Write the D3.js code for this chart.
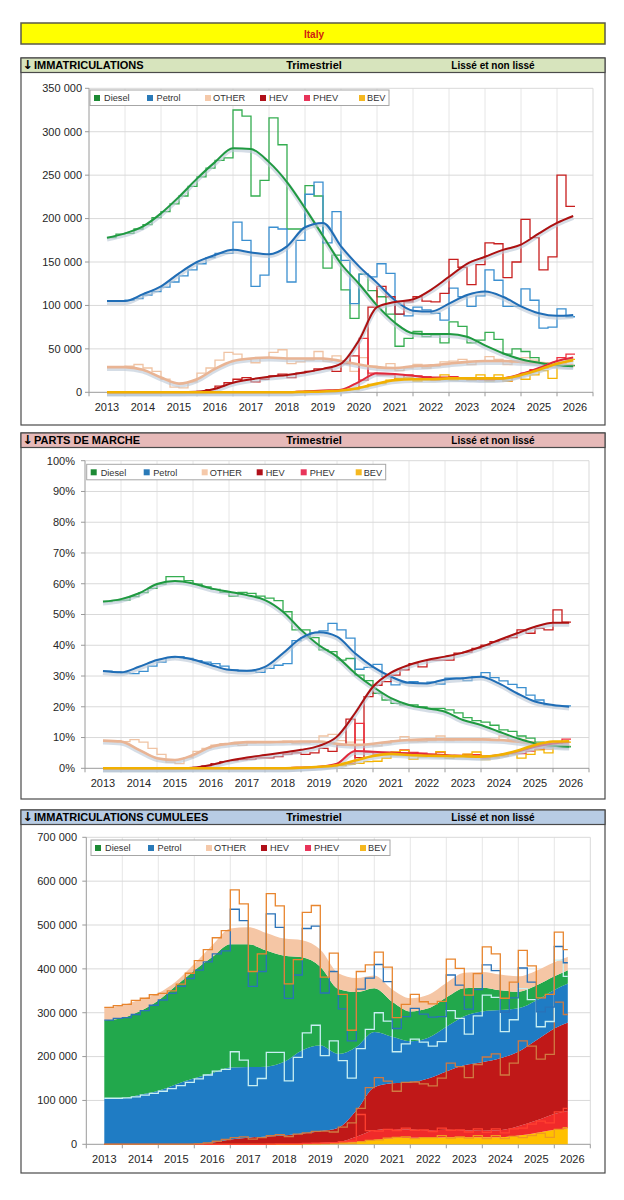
<!DOCTYPE html>
<html><head><meta charset="utf-8">
<script src="https://cdn.jsdelivr.net/npm/d3@7"></script>
<style>body{margin:0;background:#fff;} svg text{font-family:"Liberation Sans",Arial,"DejaVu Sans",sans-serif;}</style>
</head><body><svg id="c" width="624" height="1200"></svg>
<script>
// ---------- DATA ----------
const quarterLabels = ["2013Q3","2013Q4",
"2014Q1","2014Q2","2014Q3","2014Q4","2015Q1","2015Q2","2015Q3","2015Q4",
"2016Q1","2016Q2","2016Q3","2016Q4","2017Q1","2017Q2","2017Q3","2017Q4",
"2018Q1","2018Q2","2018Q3","2018Q4","2019Q1","2019Q2","2019Q3","2019Q4",
"2020Q1","2020Q2","2020Q3","2020Q4","2021Q1","2021Q2","2021Q3","2021Q4",
"2022Q1","2022Q2","2022Q3","2022Q4","2023Q1","2023Q2","2023Q3","2023Q4",
"2024Q1","2024Q2","2024Q3","2024Q4","2025Q1","2025Q2","2025Q3","2025Q4",
"2026Q1","2026Q2"];
const yearLabels = ["2013","2014","2015","2016","2017","2018","2019","2020","2021","2022","2023","2024","2025","2026"];
const smoothTimes = [2013.5,2014,2014.5,2015,2015.5,2016,2016.5,2017,2017.5,2018,2018.5,2019,2019.5,2020,2020.5,2021,2021.5,2022,2022.5,2023,2023.5,2024,2024.5,2025,2025.5,2026,2026.45];
const seriesNames = ["Diesel","Petrol","OTHER","HEV","PHEV","BEV"];

// Registrations per quarter (thousands)
const dieselRaw = [178,182,183,188,193,201,208,217,226,237,248,258,267,270,325,318,226,244,316,285,188,188,238,226,143,158,118,85,136,117,110,90,53,62,70,64,66,57,81,76,57,60,69,61,44,50,47,40,34,33,31,31];
const petrolRaw = [105,105,106,108,112,116,121,127,134,141,148,155,160,160,196,175,122,135,190,188,127,175,228,242,172,208,152,102,136,133,148,137,90,88,98,95,91,83,120,110,99,111,141,129,99,99,119,106,74,75,96,87];
const otherRaw  = [29,29,30,32,28,24,15,6,5,12,22,28,37,46,44,38,34,40,46,49,33,35,37,47,36,42,33,24,40,30,28,33,25,28,32,28,30,35,36,38,32,36,41,38,32,36,40,37,32,29,33,30];
const hevRaw    = [0,0,0,0,0,0,0,0,0,0,1,3,7,11,15,17,12,15,19,21,17,22,24,27,27,24,33,42,14,98,122,110,90,104,110,105,104,114,153,144,124,147,172,171,132,150,199,178,141,156,250,214];
const phevRaw   = [0,0,0,0,0,0,0,0,0,0,0,0,0,0,0,0,0,0,0.5,0.8,0.8,1,1.2,1.5,1.5,2,3,4,62,22,20,20,15,20,19,18,14,17,18,16,14,15,14,15,13,17,22,26,28,33,40,44];
const bevRaw    = [0,0,0,0,0,0,0,0,0,0,0,0,0,0,0,0,0,0,0,0,0,0,0.8,1,1.5,2,3,3,6,9,10,14,16,17,13,15,15,20,14,17,14,20,13,20,13,18,15,20,25,16,34,38];

// Smoothed registrations (thousands) at smoothTimes
const dieselSmooth = [178,183,191,206,225,246,265,281,280,265,242,212,180,148,125,100,80,68,67,67,64,54,45,38,34,31,30];
const petrolSmooth = [105,105,113,122,137,150,158,164,161,159,168,190,195,168,145,126,106,94,93,102,112,116,110,99,91,88,89];
const otherSmooth  = [29,29,26,17,10,15,27,36,39,40,39,39,39,36,32,29,28,30,31,33,35,36,36,35,34,32,31];
const hevSmooth    = [0,0,0,0,0,0.5,4,11,15,18,20,23,27,33,60,98,104,107,118,133,148,156,164,170,183,195,203];
const phevSmooth   = [0,0,0,0,0,0,0,0,0,0,0,1,2,3,12,22,21,19,17,17,16,15,16,21,28,36,40];
const bevSmooth    = [0,0,0,0,0,0,0,0,0,0,0,0.5,1,2,5,10,14,15,15,16,16,16,16,20,26,33,37];

// Market shares per quarter (%)
const dieselShare = [54.2,54.5,54.7,55.8,57.1,58.5,59.9,62.3,62.3,61.0,59.9,59.0,58.2,57.2,56.0,57.2,56.9,56.0,55.3,54.5,50.9,45.0,45.0,42.5,38.5,37.9,35.2,35.7,30.3,28.5,24.4,22.2,21.1,20.6,20.6,20.0,19.5,19.5,19.0,18.0,16.5,15.5,15.0,14.0,12.5,12.0,10.5,9.8,8.5,8.0,7.3,7.0];
const petrolShare = [31.6,31.3,31.0,30.8,31.5,33.2,34.5,36.0,36.3,35.7,35.0,34.5,34.0,33.2,32.0,31.5,31.5,31.2,32.5,33.5,34.0,41.5,42.5,44.0,44.7,47.1,45.0,42.3,32.2,32.8,33.8,29.8,27.1,27.8,28.2,27.6,28.0,27.4,29.3,29.3,28.5,29.8,31.1,29.5,28.4,27.3,26.2,23.8,22.2,20.6,20.3,20.3];
const otherShare  = [9.0,9.0,8.7,9.3,8.5,6.5,4.5,2.0,1.5,3.5,5.5,6.5,7.5,8.0,7.8,7.5,8.3,8.7,8.5,8.5,8.8,8.0,8.2,8.5,10.5,11.0,9.0,8.5,9.2,7.6,7.3,8.0,9.0,10.3,8.6,8.7,9.0,10.5,9.0,9.3,9.6,9.2,9.5,9.0,10.5,9.2,9.3,8.7,8.0,6.2,7.5,7.2];
const hevShare    = [0,0,0,0,0,0,0,0,0,0,0.3,0.8,1.5,2.2,2.5,2.8,3.0,3.4,3.4,3.8,4.6,5.0,4.5,5.0,6.5,5.5,7.6,16.0,3.5,23.3,27.0,28.2,30.3,32.0,34.0,33.0,35.2,35.2,35.2,37.4,37.8,39.0,40.0,41.2,41.8,42.5,45.0,43.9,45.5,45.0,51.5,47.5];
const phevShare   = [0,0,0,0,0,0,0,0,0,0,0,0,0,0,0,0,0,0,0,0,0.2,0.3,0.3,0.4,0.5,0.6,1.0,1.6,14.6,5.2,4.6,4.7,5.0,6.0,5.2,4.9,4.5,5.3,4.0,4.2,4.5,4.4,3.2,3.6,4.0,4.8,4.8,5.6,6.2,7.0,7.8,9.5];
const bevShare    = [0,0,0,0,0,0,0,0,0,0,0,0,0,0,0,0,0,0,0,0,0,0,0.2,0.2,0.4,0.5,0.9,1.3,1.6,2.2,2.3,3.3,5.3,5.8,3.0,3.7,4.0,5.4,3.2,4.0,4.6,5.3,2.8,3.4,4.0,4.5,3.3,4.5,6.0,5.0,7.1,8.5];

// Smoothed market shares (%) at smoothTimes
const dieselShareSmooth = [54.2,55,56.9,59.9,60.9,60.1,58.5,57.4,56.3,54.7,50.9,45,40,36.3,30.9,26.5,22.8,20.6,19.5,18.4,15.7,14.1,11.9,9.8,8.1,7.3,7.0];
const petrolShareSmooth = [31.6,31.2,33,35.2,36.3,35.4,33.6,32,31.7,33,37.4,42.3,44.2,42.8,37.4,33,29.8,27.8,27.6,28.9,29.3,29.8,27.6,24.4,21.7,20.6,20];
const otherShareSmooth  = [9,8.7,6,3.3,2.7,4.3,7,8,8.5,8.5,8.6,8.7,8.7,8.0,7.6,8.0,8.7,9.2,9.4,9.4,9.4,9.4,9.2,8.7,8.0,7.6,7.4];
const hevShareSmooth    = [0,0,0,0,0,0.2,1.1,2.5,3.5,4.3,5.1,6,7.3,10.3,17.9,26.5,31.1,33.6,35.2,36.3,37.6,39.5,41.7,43.9,46,47.3,47.3];
const phevShareSmooth   = [0,0,0,0,0,0,0,0,0,0,0,0.2,0.5,1.5,5.6,5.4,5.1,4.9,4.6,4.3,4.0,3.8,4.3,5.4,7,8.1,8.5];
const bevShareSmooth    = [0,0,0,0,0,0,0,0,0,0,0,0.2,0.5,1.0,2.5,4.0,4.7,4.3,4.1,4,3.9,3.8,4.3,5.7,7.6,8.7,8.8];

// ---------- STYLE ----------
const rawColor    = {Diesel:"#34ad50",Petrol:"#3a8fd0",OTHER:"#f0c3a3",HEV:"#c81e1e",PHEV:"#f0303e",BEV:"#f5b400"};
const smoothColor = {Diesel:"#1f9a40",Petrol:"#1f6db6",OTHER:"#e9b494",HEV:"#ad1010",PHEV:"#e2283a",BEV:"#f2b000"};
const legendColor = {Diesel:"#1c8a34",Petrol:"#2a7ab8",OTHER:"#f5c9aa",HEV:"#b0101a",PHEV:"#e8345a",BEV:"#f5b820"};
const areaColor   = {BEV:"#ffc000",PHEV:"#f02a2a",HEV:"#c01818",Petrol:"#1f7cc4",Diesel:"#22a84c",OTHER:"#f5c6a5"};
const cumLineColor= {BEV:"#f09a20",PHEV:"#ff4030",HEV:"#d07a42",Petrol:"#c8eff2",Diesel:"#2a72b8",OTHER:"#e8852e"};

const svg = d3.select("#c");
const qT = quarterLabels.map(s => +s.slice(0,4) + (+s.slice(5) - 1) * 0.25);
const spaceFmt = d => d === 0 ? "0" : d3.format(",")(d * 1000).replace(/,/g, " ");

// Title
svg.append("rect").attr("x",21).attr("y",23).attr("width",584).attr("height",21)
  .attr("fill","#ffff00").attr("stroke","#5a5a4a").attr("stroke-width",1.5);
svg.append("text").attr("x",314).attr("y",37.5).attr("text-anchor","middle")
  .attr("font-size",10).attr("font-weight","bold").attr("fill","#d02010").text("Italy");

function panel(p){
  const g = svg.append("g");
  g.append("rect").attr("x",21).attr("y",p.frameTop).attr("width",584).attr("height",p.frameBottom-p.frameTop)
    .attr("fill","#fff").attr("stroke","#4a4a4a").attr("stroke-width",1.2);
  g.append("rect").attr("x",21).attr("y",p.frameTop).attr("width",584).attr("height",14.5)
    .attr("fill",p.headColor).attr("stroke","#4a4a4a").attr("stroke-width",1.2);
  const ty = p.frameTop + 11.3;
  const tt = g.append("text").attr("x",22.5).attr("y",ty).attr("font-size",11).attr("font-weight","bold");
  tt.append("tspan").attr("font-family","DejaVu Sans").attr("font-size",12.5).text("\u2193");
  tt.append("tspan").attr("dx",1).text(p.title);
  g.append("text").attr("x",314).attr("y",ty).attr("text-anchor","middle").attr("font-size",11).attr("font-weight","bold").text("Trimestriel");
  g.append("text").attr("x",493).attr("y",ty).attr("text-anchor","middle").attr("font-size",10).attr("font-weight","bold").text("Lissé et non lissé");

  const x = d3.scaleLinear().domain([2013,2027]).range([p.x0, p.x0 + 504]);
  const y = d3.scaleLinear().domain([0,p.yMax]).range([p.yBot, p.yTop]);
  const ticks = d3.range(0, p.yMax + p.yStep/2, p.yStep);
  g.append("g").selectAll("line").data(d3.range(2014,2027)).join("line")
    .attr("x1",d=>x(d)).attr("x2",d=>x(d)).attr("y1",p.yTop).attr("y2",p.yBot)
    .attr("stroke","#e6e6e6").attr("stroke-width",1);
  g.append("g").selectAll("line").data(ticks.slice(1)).join("line")
    .attr("x1",p.x0).attr("x2",p.x0+504).attr("y1",d=>y(d)).attr("y2",d=>y(d))
    .attr("stroke","#d9d9d9").attr("stroke-width",1);
  g.append("line").attr("x1",p.x0+504).attr("x2",p.x0+504).attr("y1",p.yTop).attr("y2",p.yBot).attr("stroke","#d9d9d9");
  g.append("line").attr("x1",p.x0).attr("x2",p.x0).attr("y1",p.yTop).attr("y2",p.yBot).attr("stroke","#9a9a9a");
  g.append("g").selectAll("line").data(ticks).join("line")
    .attr("x1",p.x0-4).attr("x2",p.x0).attr("y1",d=>y(d)).attr("y2",d=>y(d)).attr("stroke","#9a9a9a");
  g.append("g").selectAll("text").data(ticks).join("text")
    .attr("x",p.labelX).attr("y",d=>y(d)+3.8).attr("text-anchor","end")
    .attr("font-size",11).attr("fill","#262626").text(p.fmt);
  g.append("line").attr("x1",p.x0).attr("x2",p.x0+504).attr("y1",p.yBot).attr("y2",p.yBot).attr("stroke","#9a9a9a");
  g.append("g").selectAll("line").data(d3.range(2013,2028)).join("line")
    .attr("x1",d=>x(d)).attr("x2",d=>x(d)).attr("y1",p.yBot).attr("y2",p.yBot+4).attr("stroke","#9a9a9a");
  g.append("g").selectAll("text").data(yearLabels).join("text")
    .attr("x",d=>x(+d+0.5)).attr("y",p.yBot+18.5).attr("text-anchor","middle")
    .attr("font-size",11).attr("fill","#262626").text(d=>d);
  return {g,x,y};
}

function legend(g, lx, ly){
  const offs = [[7,14],[60,66.5],[118,123],[173,179],[217,223],[272,277]];
  g.append("rect").attr("x",lx).attr("y",ly).attr("width",299).attr("height",15.5)
    .attr("fill","#fff").attr("stroke","#a6a6a6").attr("stroke-width",1);
  seriesNames.forEach((s,k)=>{
    g.append("rect").attr("x",lx+offs[k][0]-3).attr("y",ly+5).attr("width",6).attr("height",6).attr("fill",legendColor[s]);
    g.append("text").attr("x",lx+offs[k][1]).attr("y",ly+11.3).attr("font-size",9.2).attr("fill","#333").text(s);
  });
}

function stepPts(vals){
  const pts = vals.map((v,i)=>({t:qT[i], v}));
  pts.push({t:qT[qT.length-1]+0.25, v:vals[vals.length-1]});
  return pts;
}

function linesPanel(P, raws, smooths){
  const {g,x,y} = P;
  const step = d3.line().x(d=>x(d.t)).y(d=>y(d.v)).curve(d3.curveStepAfter);
  const sm = d3.line().x(d=>x(d.t)).y(d=>y(d.v)).curve(d3.curveMonotoneX);
  const order = ["OTHER","Diesel","Petrol","HEV","PHEV","BEV"];
  order.forEach(s=>{
    g.append("path").attr("d",step(stepPts(raws[s]))).attr("fill","none")
      .attr("stroke",rawColor[s]).attr("stroke-width",1.3);
  });
  order.forEach(s=>{
    const pts = smoothTimes.map((t,i)=>({t, v:smooths[s][i]}));
    g.append("path").attr("d",sm(pts)).attr("fill","none").attr("transform","translate(0,1.6)")
      .attr("stroke","#b9c7d6").attr("stroke-opacity",0.6).attr("stroke-width",4.5);
    g.append("path").attr("d",sm(pts)).attr("fill","none")
      .attr("stroke",smoothColor[s]).attr("stroke-width", (s==="OTHER"||s==="BEV")?2.6:2);
  });
}

// ---------- PANEL 1 ----------
const P1 = panel({frameTop:58, frameBottom:425, headColor:"#d7e4bd", title:"IMMATRICULATIONS",
  x0:89, yTop:88.3, yBot:392.3, yMax:350, yStep:50, fmt:spaceFmt, labelX:82});
linesPanel(P1,
  {Diesel:dieselRaw,Petrol:petrolRaw,OTHER:otherRaw,HEV:hevRaw,PHEV:phevRaw,BEV:bevRaw},
  {Diesel:dieselSmooth,Petrol:petrolSmooth,OTHER:otherSmooth,HEV:hevSmooth,PHEV:phevSmooth,BEV:bevSmooth});
legend(P1.g, 90, 90);

// ---------- PANEL 2 ----------
const P2 = panel({frameTop:433, frameBottom:799, headColor:"#e6b9b8", title:"PARTS DE MARCHE",
  x0:85, yTop:460.7, yBot:768.3, yMax:100, yStep:10, fmt:d=>d+"%", labelX:75});
linesPanel(P2,
  {Diesel:dieselShare,Petrol:petrolShare,OTHER:otherShare,HEV:hevShare,PHEV:phevShare,BEV:bevShare},
  {Diesel:dieselShareSmooth,Petrol:petrolShareSmooth,OTHER:otherShareSmooth,HEV:hevShareSmooth,PHEV:phevShareSmooth,BEV:bevShareSmooth});
legend(P2.g, 86.7, 464.3);

// ---------- PANEL 3 ----------
const P3 = panel({frameTop:810, frameBottom:1173, headColor:"#b8cce4", title:"IMMATRICULATIONS CUMULEES",
  x0:86.3, yTop:837.3, yBot:1144.3, yMax:700, yStep:100, fmt:spaceFmt, labelX:77});
(function(){
  const {g,x,y} = P3;
  const stackOrder = ["BEV","PHEV","HEV","Petrol","Diesel","OTHER"];
  const rawMap = {Diesel:dieselRaw,Petrol:petrolRaw,OTHER:otherRaw,HEV:hevRaw,PHEV:phevRaw,BEV:bevRaw};
  const smMap = {Diesel:dieselSmooth,Petrol:petrolSmooth,OTHER:otherSmooth,HEV:hevSmooth,PHEV:phevSmooth,BEV:bevSmooth};
  svg.append("defs").append("clipPath").attr("id","clip3").append("rect")
    .attr("x",x(2013)).attr("y",P3.y.range()[1]-5).attr("width",x(2026.375)-x(2013)).attr("height",320);
  const cg = g.append("g").attr("clip-path","url(#clip3)");
  const smRows = smoothTimes.map((t,i)=>{const r={t}; stackOrder.forEach(s=>r[s]=smMap[s][i]); return r;});
  const smStack = d3.stack().keys(stackOrder)(smRows);
  const area = d3.area().x(d=>x(d.data.t)).y0(d=>y(d[0])).y1(d=>y(d[1])).curve(d3.curveMonotoneX);
  smStack.forEach(layer=>{
    cg.append("path").attr("d",area(layer)).attr("fill",areaColor[layer.key]).attr("stroke","none");
  });
  const rawRows = qT.map((t,i)=>{const r={t}; stackOrder.forEach(s=>r[s]=rawMap[s][i]); return r;});
  const rawStack = d3.stack().keys(stackOrder)(rawRows);
  const step = d3.line().x(d=>x(d.t)).y(d=>y(d.v)).curve(d3.curveStepAfter);
  rawStack.forEach(layer=>{
    const pts = layer.map((d,i)=>({t:qT[i], v:d[1]}));
    pts.push({t:qT[qT.length-1]+0.25, v:layer[layer.length-1][1]});
    cg.append("path").attr("d",step(pts)).attr("fill","none")
      .attr("stroke",cumLineColor[layer.key]).attr("stroke-width",1.3);
  });
  legend(g, 91, 840);
})();
</script></body></html>
